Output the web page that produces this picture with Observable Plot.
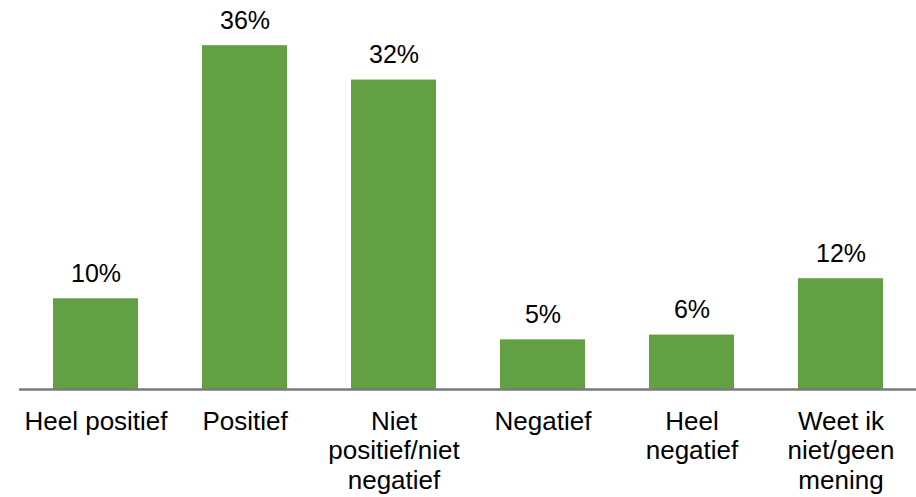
<!DOCTYPE html>
<html>
<head>
<meta charset="utf-8">
<script src="https://cdn.jsdelivr.net/npm/d3@7"></script>
<script src="https://cdn.jsdelivr.net/npm/@observablehq/plot@0.6"></script>
<style>
  html, body { margin: 0; padding: 0; background: #fff; }
  #chart svg { display: block; }
</style>
</head>
<body>
<div id="chart"></div>
<script>
const categories = ["Heel positief", "Positief", "Niet positief/niet negatief", "Negatief", "Heel negatief", "Weet ik niet/geen mening"];
const tickLabels = ["Heel positief", "Positief", "Niet\npositief/niet\nnegatief", "Negatief", "Heel\nnegatief", "Weet ik\nniet/geen\nmening"];
const values = [9.5, 36.0, 32.4, 5.2, 5.7, 11.6];

const data = categories.map((c, i) => ({category: c, value: values[i], label: tickLabels[i]}));
const labelOf = new Map(data.map(d => [d.category, d.label]));

const chart = Plot.plot({
  width: 916,
  height: 497,
  marginTop: 7,
  marginBottom: 108,
  marginLeft: 19,
  marginRight: 0,
  style: {fontFamily: "'Liberation Sans', Arial, sans-serif", background: "#fff"},
  x: {domain: categories, paddingInner: 0.43, paddingOuter: 0.215},
  y: {domain: [0, 40]},
  marks: [
    Plot.barY(data, {x: "category", y: "value", fill: "#62a043"}),
    Plot.ruleY([0], {stroke: "#7a7a7a", strokeWidth: 2.5}),
    Plot.text(data, {x: "category", y: "value", text: d => Math.round(d.value) + "%", lineAnchor: "bottom", dy: -17, fontSize: 25, fill: "#000"}),
    Plot.axisX({tickSize: 0, tickPadding: 19, fontSize: 26, lineHeight: 1.14, lineAnchor: "top", tickFormat: c => labelOf.get(c), color: "#000", label: null}),
    Plot.axisY({ticks: [], label: null})
  ]
});
document.getElementById("chart").append(chart);
</script>
</body>
</html>
